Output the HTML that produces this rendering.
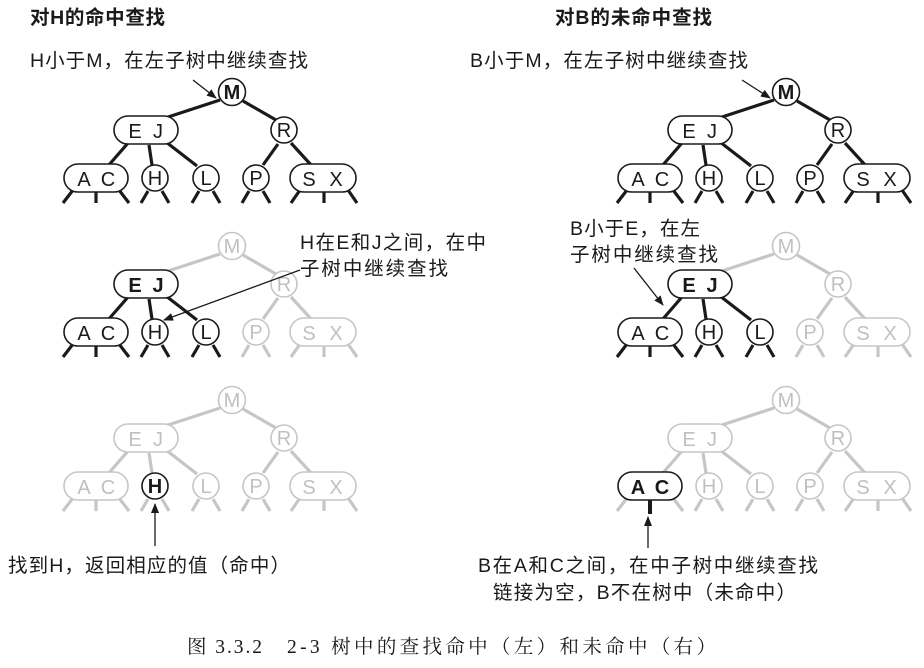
<!DOCTYPE html>
<html><head><meta charset="utf-8"><style>
html,body{margin:0;padding:0;background:#fff}
svg{display:block}
.t{font-family:"Liberation Sans","Noto Sans CJK SC",sans-serif;font-size:19.5px;fill:#1a1a1a}
.n{font-family:"Liberation Sans",sans-serif;font-size:20px;text-anchor:middle}
.k line{stroke:#1a1a1a;stroke-width:3.2}
.g line{stroke:#c6c6c6;stroke-width:3.2}
.k circle,.k rect{stroke:#1a1a1a;stroke-width:1.6;fill:#fff}
.g circle,.g rect{stroke:#c6c6c6;stroke-width:1.6;fill:#fff}
.k text{fill:#1a1a1a}
.g text{fill:#c0c0c0}
.b text{font-weight:bold}
.ar{stroke:#1a1a1a;stroke-width:1.3}
</style></head><body>
<svg width="924" height="668" viewBox="0 0 924 668" xmlns="http://www.w3.org/2000/svg">
<defs><marker id="a" markerWidth="10" markerHeight="8" refX="9" refY="4" orient="auto" markerUnits="userSpaceOnUse"><path d="M0,0 L10,4 L0,8 Z" fill="#1a1a1a"/></marker></defs>

<!-- Tree 1 (all black) -->
<g transform="translate(0,0)">
<g class="k">
<line x1="220" y1="100" x2="165" y2="118"/><line x1="243" y1="101" x2="276" y2="120"/>
<line x1="128" y1="143" x2="108" y2="166"/><line x1="149" y1="145" x2="152" y2="165"/><line x1="166" y1="142" x2="197" y2="166"/>
<line x1="278" y1="144" x2="263" y2="165"/><line x1="291" y1="143" x2="312" y2="166"/>
<line x1="73" y1="190" x2="63" y2="203"/><line x1="96" y1="192" x2="96" y2="203"/><line x1="119" y1="190" x2="129" y2="203"/>
<line x1="148" y1="191" x2="141" y2="203"/><line x1="162" y1="191" x2="169" y2="203"/>
<line x1="199" y1="191" x2="192" y2="203"/><line x1="213" y1="191" x2="220" y2="203"/>
<line x1="249" y1="191" x2="242" y2="203"/><line x1="263" y1="191" x2="270" y2="203"/>
<line x1="300" y1="190" x2="291" y2="203"/><line x1="324" y1="192" x2="324" y2="203"/><line x1="348" y1="190" x2="357" y2="203"/>
<g class="b"><circle cx="232" cy="92" r="13.5"/><text class="n" x="232" y="99">M</text></g>
<rect x="114" y="116" width="64" height="28" rx="14"/><text class="n" x="135" y="138">E</text><text class="n" x="158" y="138">J</text>
<circle cx="284" cy="130" r="13"/><text class="n" x="284" y="137">R</text>
<rect x="64" y="164" width="64" height="28" rx="14"/><text class="n" x="84" y="186">A</text><text class="n" x="108" y="186">C</text>
<circle cx="155" cy="178" r="13"/><text class="n" x="155" y="185">H</text>
<circle cx="206" cy="178" r="13"/><text class="n" x="206" y="185">L</text>
<circle cx="256" cy="178" r="13"/><text class="n" x="256" y="185">P</text>
<rect x="290" y="164" width="66" height="28" rx="14"/><text class="n" x="309" y="186">S</text><text class="n" x="336" y="186">X</text>
</g></g>

<!-- Tree 4 (right, all black) -->
<g transform="translate(554,0)">
<g class="k">
<line x1="220" y1="100" x2="165" y2="118"/><line x1="243" y1="101" x2="276" y2="120"/>
<line x1="128" y1="143" x2="108" y2="166"/><line x1="149" y1="145" x2="152" y2="165"/><line x1="166" y1="142" x2="197" y2="166"/>
<line x1="278" y1="144" x2="263" y2="165"/><line x1="291" y1="143" x2="312" y2="166"/>
<line x1="73" y1="190" x2="63" y2="203"/><line x1="96" y1="192" x2="96" y2="203"/><line x1="119" y1="190" x2="129" y2="203"/>
<line x1="148" y1="191" x2="141" y2="203"/><line x1="162" y1="191" x2="169" y2="203"/>
<line x1="199" y1="191" x2="192" y2="203"/><line x1="213" y1="191" x2="220" y2="203"/>
<line x1="249" y1="191" x2="242" y2="203"/><line x1="263" y1="191" x2="270" y2="203"/>
<line x1="300" y1="190" x2="291" y2="203"/><line x1="324" y1="192" x2="324" y2="203"/><line x1="348" y1="190" x2="357" y2="203"/>
<g class="b"><circle cx="232" cy="92" r="13.5"/><text class="n" x="232" y="99">M</text></g>
<rect x="114" y="116" width="64" height="28" rx="14"/><text class="n" x="135" y="138">E</text><text class="n" x="158" y="138">J</text>
<circle cx="284" cy="130" r="13"/><text class="n" x="284" y="137">R</text>
<rect x="64" y="164" width="64" height="28" rx="14"/><text class="n" x="84" y="186">A</text><text class="n" x="108" y="186">C</text>
<circle cx="155" cy="178" r="13"/><text class="n" x="155" y="185">H</text>
<circle cx="206" cy="178" r="13"/><text class="n" x="206" y="185">L</text>
<circle cx="256" cy="178" r="13"/><text class="n" x="256" y="185">P</text>
<rect x="290" y="164" width="66" height="28" rx="14"/><text class="n" x="309" y="186">S</text><text class="n" x="336" y="186">X</text>
</g></g>

<!-- Tree 2 -->
<g transform="translate(0,154)">
<g class="g">
<line x1="220" y1="100" x2="165" y2="118"/><line x1="243" y1="101" x2="276" y2="120"/>
<line x1="278" y1="144" x2="263" y2="165"/><line x1="291" y1="143" x2="312" y2="166"/>
<line x1="249" y1="191" x2="242" y2="203"/><line x1="263" y1="191" x2="270" y2="203"/>
<line x1="300" y1="190" x2="291" y2="203"/><line x1="324" y1="192" x2="324" y2="203"/><line x1="348" y1="190" x2="357" y2="203"/>
<circle cx="232" cy="92" r="13.5"/><text class="n" x="232" y="99">M</text>
<circle cx="284" cy="130" r="13"/><text class="n" x="284" y="137">R</text>
<circle cx="256" cy="178" r="13"/><text class="n" x="256" y="185">P</text>
<rect x="290" y="164" width="66" height="28" rx="14"/><text class="n" x="309" y="186">S</text><text class="n" x="336" y="186">X</text>
</g>
<g class="k">
<line x1="128" y1="143" x2="108" y2="166"/><line x1="149" y1="145" x2="152" y2="165"/><line x1="166" y1="142" x2="197" y2="166"/>
<line x1="73" y1="190" x2="63" y2="203"/><line x1="96" y1="192" x2="96" y2="203"/><line x1="119" y1="190" x2="129" y2="203"/>
<line x1="148" y1="191" x2="141" y2="203"/><line x1="162" y1="191" x2="169" y2="203"/>
<line x1="199" y1="191" x2="192" y2="203"/><line x1="213" y1="191" x2="220" y2="203"/>
<g class="b"><rect x="114" y="116" width="64" height="28" rx="14"/><text class="n" x="135" y="138">E</text><text class="n" x="158" y="138">J</text></g>
<rect x="64" y="164" width="64" height="28" rx="14"/><text class="n" x="84" y="186">A</text><text class="n" x="108" y="186">C</text>
<circle cx="155" cy="178" r="13"/><text class="n" x="155" y="185">H</text>
<circle cx="206" cy="178" r="13"/><text class="n" x="206" y="185">L</text>
</g></g>
<!-- Tree 5 -->
<g transform="translate(554,154)">
<g class="g">
<line x1="220" y1="100" x2="165" y2="118"/><line x1="243" y1="101" x2="276" y2="120"/>
<line x1="278" y1="144" x2="263" y2="165"/><line x1="291" y1="143" x2="312" y2="166"/>
<line x1="249" y1="191" x2="242" y2="203"/><line x1="263" y1="191" x2="270" y2="203"/>
<line x1="300" y1="190" x2="291" y2="203"/><line x1="324" y1="192" x2="324" y2="203"/><line x1="348" y1="190" x2="357" y2="203"/>
<circle cx="232" cy="92" r="13.5"/><text class="n" x="232" y="99">M</text>
<circle cx="284" cy="130" r="13"/><text class="n" x="284" y="137">R</text>
<circle cx="256" cy="178" r="13"/><text class="n" x="256" y="185">P</text>
<rect x="290" y="164" width="66" height="28" rx="14"/><text class="n" x="309" y="186">S</text><text class="n" x="336" y="186">X</text>
</g>
<g class="k">
<line x1="128" y1="143" x2="108" y2="166"/><line x1="149" y1="145" x2="152" y2="165"/><line x1="166" y1="142" x2="197" y2="166"/>
<line x1="73" y1="190" x2="63" y2="203"/><line x1="96" y1="192" x2="96" y2="203"/><line x1="119" y1="190" x2="129" y2="203"/>
<line x1="148" y1="191" x2="141" y2="203"/><line x1="162" y1="191" x2="169" y2="203"/>
<line x1="199" y1="191" x2="192" y2="203"/><line x1="213" y1="191" x2="220" y2="203"/>
<g class="b"><rect x="114" y="116" width="64" height="28" rx="14"/><text class="n" x="135" y="138">E</text><text class="n" x="158" y="138">J</text></g>
<rect x="64" y="164" width="64" height="28" rx="14"/><text class="n" x="84" y="186">A</text><text class="n" x="108" y="186">C</text>
<circle cx="155" cy="178" r="13"/><text class="n" x="155" y="185">H</text>
<circle cx="206" cy="178" r="13"/><text class="n" x="206" y="185">L</text>
</g></g>

<!-- Tree 3 -->
<g transform="translate(0,308)">
<g class="g">
<line x1="220" y1="100" x2="165" y2="118"/><line x1="243" y1="101" x2="276" y2="120"/>
<line x1="128" y1="143" x2="108" y2="166"/><line x1="149" y1="145" x2="152" y2="165"/><line x1="166" y1="142" x2="197" y2="166"/>
<line x1="278" y1="144" x2="263" y2="165"/><line x1="291" y1="143" x2="312" y2="166"/>
<line x1="73" y1="190" x2="63" y2="203"/><line x1="96" y1="192" x2="96" y2="203"/><line x1="119" y1="190" x2="129" y2="203"/>
<line x1="148" y1="191" x2="141" y2="203"/><line x1="162" y1="191" x2="169" y2="203"/>
<line x1="199" y1="191" x2="192" y2="203"/><line x1="213" y1="191" x2="220" y2="203"/>
<line x1="249" y1="191" x2="242" y2="203"/><line x1="263" y1="191" x2="270" y2="203"/>
<line x1="300" y1="190" x2="291" y2="203"/><line x1="324" y1="192" x2="324" y2="203"/><line x1="348" y1="190" x2="357" y2="203"/>
<circle cx="232" cy="92" r="13.5"/><text class="n" x="232" y="99">M</text>
<rect x="114" y="116" width="64" height="28" rx="14"/><text class="n" x="135" y="138">E</text><text class="n" x="158" y="138">J</text>
<circle cx="284" cy="130" r="13"/><text class="n" x="284" y="137">R</text>
<rect x="64" y="164" width="64" height="28" rx="14"/><text class="n" x="84" y="186">A</text><text class="n" x="108" y="186">C</text>
<circle cx="206" cy="178" r="13"/><text class="n" x="206" y="185">L</text>
<circle cx="256" cy="178" r="13"/><text class="n" x="256" y="185">P</text>
<rect x="290" y="164" width="66" height="28" rx="14"/><text class="n" x="309" y="186">S</text><text class="n" x="336" y="186">X</text>
</g>
<g class="k b"><circle cx="155" cy="178" r="13"/><text class="n" x="155" y="185">H</text></g>
</g>

<!-- Tree 6 -->
<g transform="translate(554,308)">
<g class="g">
<line x1="220" y1="100" x2="165" y2="118"/><line x1="243" y1="101" x2="276" y2="120"/>
<line x1="128" y1="143" x2="108" y2="166"/><line x1="149" y1="145" x2="152" y2="165"/><line x1="166" y1="142" x2="197" y2="166"/>
<line x1="278" y1="144" x2="263" y2="165"/><line x1="291" y1="143" x2="312" y2="166"/>
<line x1="73" y1="190" x2="63" y2="203"/><line x1="119" y1="190" x2="129" y2="203"/>
<line x1="148" y1="191" x2="141" y2="203"/><line x1="162" y1="191" x2="169" y2="203"/>
<line x1="199" y1="191" x2="192" y2="203"/><line x1="213" y1="191" x2="220" y2="203"/>
<line x1="249" y1="191" x2="242" y2="203"/><line x1="263" y1="191" x2="270" y2="203"/>
<line x1="300" y1="190" x2="291" y2="203"/><line x1="324" y1="192" x2="324" y2="203"/><line x1="348" y1="190" x2="357" y2="203"/>
<circle cx="232" cy="92" r="13.5"/><text class="n" x="232" y="99">M</text>
<rect x="114" y="116" width="64" height="28" rx="14"/><text class="n" x="135" y="138">E</text><text class="n" x="158" y="138">J</text>
<circle cx="284" cy="130" r="13"/><text class="n" x="284" y="137">R</text>
<circle cx="155" cy="178" r="13"/><text class="n" x="155" y="185">H</text>
<circle cx="206" cy="178" r="13"/><text class="n" x="206" y="185">L</text>
<circle cx="256" cy="178" r="13"/><text class="n" x="256" y="185">P</text>
<rect x="290" y="164" width="66" height="28" rx="14"/><text class="n" x="309" y="186">S</text><text class="n" x="336" y="186">X</text>
</g>
<g class="k b"><line x1="96" y1="192" x2="96" y2="206" style="stroke-width:4"/>
<rect x="64" y="164" width="64" height="28" rx="14"/><text class="n" x="84" y="186">A</text><text class="n" x="108" y="186">C</text></g>
</g>

<!-- Labels -->
<text class="t" x="30" y="24" font-weight="bold" textLength="135" lengthAdjust="spacing">对H的命中查找</text>
<text class="t" x="555" y="24" font-weight="bold" textLength="157" lengthAdjust="spacing">对B的未命中查找</text>
<text class="t" x="30" y="67" textLength="278" lengthAdjust="spacing">H小于M，在左子树中继续查找</text>
<text class="t" x="470" y="67" textLength="278" lengthAdjust="spacing">B小于M，在左子树中继续查找</text>
<line class="ar" x1="193" y1="80" x2="216" y2="98" marker-end="url(#a)"/>
<line class="ar" x1="742" y1="80" x2="770" y2="98" marker-end="url(#a)"/>

<text class="t" x="300" y="249" textLength="186" lengthAdjust="spacing">H在E和J之间，在中</text>
<text class="t" x="300" y="275" textLength="148" lengthAdjust="spacing">子树中继续查找</text>
<line class="ar" x1="300" y1="270" x2="164" y2="320" marker-end="url(#a)"/>

<text class="t" x="570" y="235" textLength="130" lengthAdjust="spacing">B小于E，在左</text>
<text class="t" x="570" y="261" textLength="148" lengthAdjust="spacing">子树中继续查找</text>
<line class="ar" x1="634" y1="268" x2="663" y2="305" marker-end="url(#a)"/>

<line class="ar" x1="155" y1="546" x2="155" y2="504" marker-end="url(#a)"/>
<text class="t" x="8" y="572" textLength="282" lengthAdjust="spacing">找到H，返回相应的值（命中）</text>

<line class="ar" x1="648" y1="548" x2="648" y2="517" marker-end="url(#a)"/>
<text class="t" x="478" y="572" textLength="340" lengthAdjust="spacing">B在A和C之间，在中子树中继续查找</text>
<text class="t" x="493" y="599" textLength="303" lengthAdjust="spacing">链接为空，B不在树中（未命中）</text>

<g style="font-family:'Liberation Serif','Noto Serif CJK SC',serif;font-size:19.5px;fill:#1a1a1a">
<text x="187" y="653" textLength="75" lengthAdjust="spacing">图 3.3.2</text>
<text x="287" y="653" textLength="429" lengthAdjust="spacing">2-3 树中的查找命中（左）和未命中（右）</text>
</g>
</svg>
</body></html>
